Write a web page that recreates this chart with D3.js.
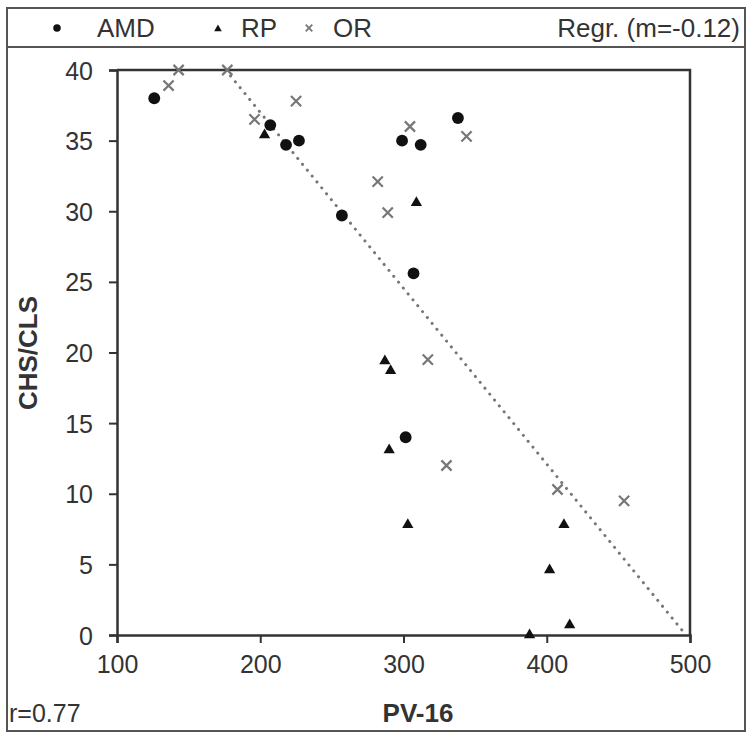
<!DOCTYPE html>
<html><head><meta charset="utf-8">
<script src="https://cdn.jsdelivr.net/npm/d3@7"></script>
<style>body{margin:0;background:#fff}svg{display:block}text{font-family:"Liberation Sans",Arial,sans-serif;fill:#333}</style>
</head><body><svg id="c" width="748" height="733"></svg>
<script>
const amdX = [126, 207, 218, 227, 257, 338, 299, 312, 307, 301.5];
const amdY = [38.0, 36.1, 34.7, 35.0, 29.7, 36.6, 35.0, 34.7, 25.6, 14.0];
const rpX = [203, 309, 287, 291, 290, 303, 412, 402, 416, 388];
const rpY = [35.4, 30.6, 19.4, 18.7, 13.1, 7.8, 7.8, 4.6, 0.7, 0.0];
const orX = [136, 143, 177, 196, 225, 304.5, 344, 282, 289, 317, 330, 407.5, 454];
const orY = [38.9, 40, 40, 36.5, 37.8, 36.0, 35.3, 32.1, 29.9, 19.5, 12.0, 10.3, 9.5];
const xTicks = [100, 200, 300, 400, 500];
const yTicks = [0, 5, 10, 15, 20, 25, 30, 35, 40];
const regrIntercept = 61.9, regrSlope = -0.1245;
const legendLabels = ["AMD", "RP", "OR", "Regr. (m=-0.12)"];

const svg = d3.select("#c");
const L = 117, R = 690, T = 70, B = 635;
const x = d3.scaleLinear().domain([100, 500]).range([L, R]);
const y = d3.scaleLinear().domain([0, 40]).range([B, T]);

// outer frame
svg.append("rect").attr("x", 7).attr("y", 8).attr("width", 738).attr("height", 723)
  .attr("fill", "none").attr("stroke", "#555").attr("stroke-width", 2);
svg.append("line").attr("x1", 7).attr("x2", 745).attr("y1", 47).attr("y2", 47)
  .attr("stroke", "#555").attr("stroke-width", 2);

// regression line (dotted)
const rx0 = (40 - regrIntercept) / regrSlope, rx1 = (0 - regrIntercept) / regrSlope;
svg.append("line")
  .attr("x1", x(rx0)).attr("y1", y(regrIntercept + regrSlope * rx0))
  .attr("x2", x(rx1)).attr("y2", y(regrIntercept + regrSlope * rx1))
  .attr("stroke", "#777").attr("stroke-width", 3).attr("stroke-linecap", "round")
  .attr("stroke-dasharray", "0.1,7.5");

// axes
const xa = svg.append("g").attr("transform", `translate(0,${B})`)
  .call(d3.axisBottom(x).tickValues(xTicks).tickSize(8).tickPadding(12).tickFormat(d3.format("d")));
const ya = svg.append("g").attr("transform", `translate(${L},0)`)
  .call(d3.axisLeft(y).tickValues(yTicks).tickSize(8).tickPadding(16).tickFormat(d3.format("d")));
[xa, ya].forEach(a => {
  a.select(".domain").attr("stroke", "#333").attr("stroke-width", 2.5);
  a.selectAll(".tick line").attr("stroke", "#333").attr("stroke-width", 2);
  a.selectAll(".tick text").attr("font-size", 25).attr("fill", "#333");
});
ya.selectAll(".tick text").attr("dy", "0.36em");
// top/right plot border
svg.append("path").attr("d", `M${L},${T}H${R}V${B}`).attr("fill", "none")
  .attr("stroke", "#333").attr("stroke-width", 2.5);

const sym = (t, s) => d3.symbol().type(t).size(s)();
// OR
svg.append("g").selectAll("path").data(orX).join("path")
  .attr("transform", (d, i) => `translate(${x(d)},${y(orY[i])})`)
  .attr("d", sym(d3.symbolX, 70)).attr("fill", "none").attr("stroke", "#777").attr("stroke-width", 2.2);
// RP
svg.append("g").selectAll("path").data(rpX).join("path")
  .attr("transform", (d, i) => `translate(${x(d)},${y(rpY[i])})`)
  .attr("d", sym(d3.symbolTriangle, 55)).attr("fill", "#111");
// AMD
svg.append("g").selectAll("path").data(amdX).join("path")
  .attr("transform", (d, i) => `translate(${x(d)},${y(amdY[i])})`)
  .attr("d", sym(d3.symbolCircle, 110)).attr("fill", "#111");

// legend
const ly = 28;
const lg = svg.append("g");
lg.append("path").attr("transform", `translate(57,${ly})`).attr("d", sym(d3.symbolCircle, 45)).attr("fill", "#111");
lg.append("path").attr("transform", `translate(218,${ly+1})`).attr("d", sym(d3.symbolTriangle, 25)).attr("fill", "#111");
lg.append("path").attr("transform", `translate(309,${ly})`).attr("d", sym(d3.symbolX, 30)).attr("fill", "none").attr("stroke", "#777").attr("stroke-width", 1.8);
const lx = [97, 241, 333, 740];
legendLabels.forEach((t, i) => {
  lg.append("text").attr("x", lx[i]).attr("y", ly).attr("dy", "0.36em").attr("font-size", 26)
    .attr("text-anchor", i === 3 ? "end" : "start").text(t);
});

// axis titles
svg.append("text").attr("x", 418).attr("y", 713).attr("dy", "0.36em").attr("text-anchor", "middle")
  .attr("font-size", 26).attr("font-weight", "bold").text("PV-16");
svg.append("text").attr("transform", "translate(28,353) rotate(-90)").attr("dy", "0.36em")
  .attr("text-anchor", "middle").attr("font-size", 26).attr("font-weight", "bold").text("CHS/CLS");
svg.append("text").attr("x", 9).attr("y", 713).attr("dy", "0.36em").attr("font-size", 25).text("r=0.77");
</script></body></html>
